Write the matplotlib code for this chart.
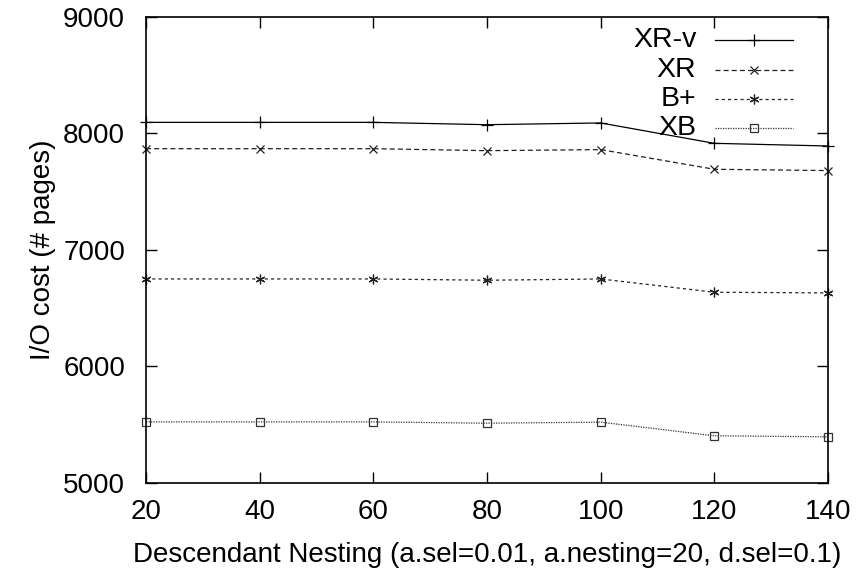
import matplotlib
matplotlib.use("Agg")
import matplotlib.pyplot as plt

nesting = [20, 40, 60, 80, 100, 120, 140]
xr_v = [8095, 8095, 8095, 8075, 8090, 7915, 7892]
xr = [7869, 7869, 7869, 7852, 7861, 7692, 7681]
bplus = [6750, 6750, 6750, 6739, 6750, 6636, 6630]
xb = [5522, 5522, 5522, 5511, 5520, 5403, 5394]

series_labels = ["XR-v", "XR", "B+", "XB"]
x_ticks = [20, 40, 60, 80, 100, 120, 140]
y_ticks = [5000, 6000, 7000, 8000, 9000]

plt.rcParams["font.family"] = ["Liberation Sans", "DejaVu Sans"]

fig = plt.figure(figsize=(8.66, 5.85), dpi=100)
ax = fig.add_axes([146 / 866, 102.3 / 585, 682 / 866, 465.7 / 585])

styles = [
    dict(linestyle="-", marker="+", markersize=8, color="black"),
    dict(linestyle=(0, (4, 2.5)), marker="x", markersize=6, color="#222222"),
    dict(linestyle=(0, (2.5, 2.5)), marker=(6, 2, 0), markersize=7, color="#222222"),
    dict(linestyle=(0, (1, 1)), marker="s", markersize=6, color="#333333",
         markerfacecolor="none"),
]

data = [xr_v, xr, bplus, xb]
for vals, st in zip(data, styles):
    ax.plot(nesting, vals, linewidth=0.9, markeredgewidth=0.9, clip_on=False, **st)

ax.set_xlim(20, 140)
ax.set_ylim(5000, 9000)
ax.set_xticks(x_ticks)
ax.set_yticks(y_ticks)
ax.tick_params(direction="in", length=8, width=1, top=True, right=True,
               labelsize=20)
ax.tick_params(axis="x", pad=12)
ax.tick_params(axis="y", pad=15)
for sp in ax.spines.values():
    sp.set_linewidth(1.2)

ax.set_xlabel("Descendant Nesting (a.sel=0.01, a.nesting=20, d.sel=0.1)",
              fontsize=20, labelpad=12)
ax.set_ylabel("I/O cost (# pages)", fontsize=20, labelpad=5)

# key in the upper right corner: right-aligned text followed by a line sample
rows_y = [0.951, 0.886, 0.823, 0.762]
for label, st, ry in zip(series_labels, styles, rows_y):
    ax.text(0.807, ry, label, transform=ax.transAxes, ha="right", va="center",
            fontsize=20.5)
    ax.plot([0.834, 0.949], [ry, ry], transform=ax.transAxes, linewidth=0.9,
            linestyle=st["linestyle"], color=st["color"])
    mk = {k: v for k, v in st.items() if k not in ("linestyle",)}
    ax.plot([0.891], [ry], transform=ax.transAxes, linestyle="none",
            markeredgewidth=0.9, **mk)

fig.savefig("out.png", dpi=100)
